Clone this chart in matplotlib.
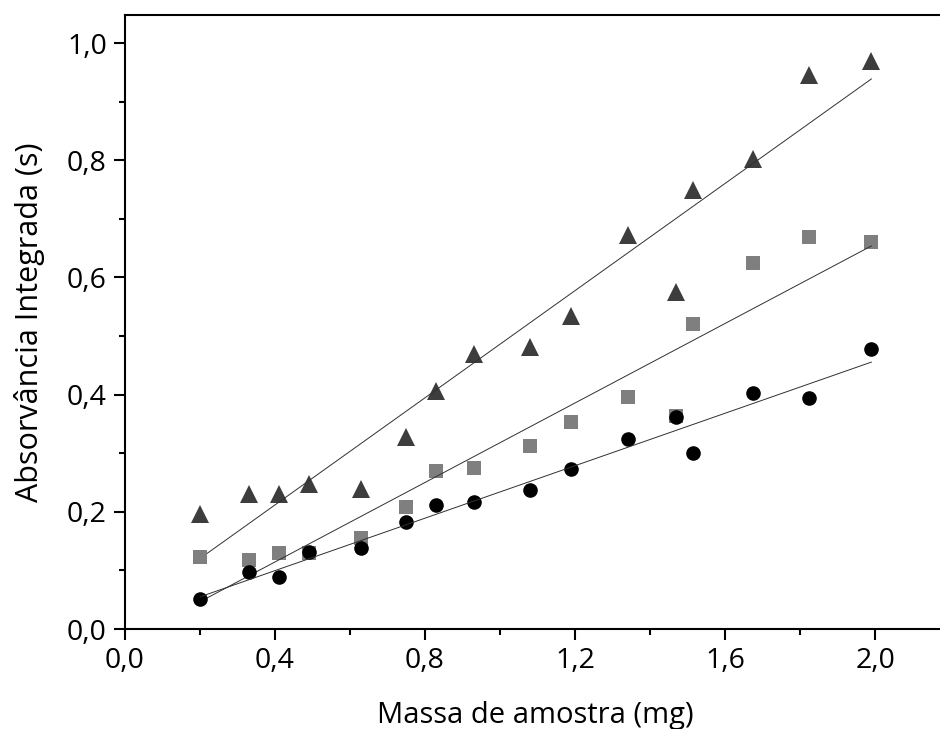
import numpy as np
import matplotlib.pyplot as plt
import matplotlib.ticker as ticker

plt.rcParams['font.family'] = ['Open Sans', 'DejaVu Sans']

# massa de amostra (mg)
massa = [0.20, 0.33, 0.41, 0.49, 0.63, 0.75, 0.83, 0.93, 1.08, 1.19,
         1.34, 1.47, 1.515, 1.675, 1.825, 1.99]
# absorvância integrada (s)
abs_triangulo = [0.196, 0.230, 0.230, 0.247, 0.239, 0.327, 0.406, 0.470, 0.481, 0.535,
                 0.673, 0.576, 0.750, 0.802, 0.946, 0.970]
abs_quadrado = [0.123, 0.118, 0.130, 0.130, 0.155, 0.208, 0.270, 0.274, 0.313, 0.353,
                0.396, 0.364, 0.521, 0.625, 0.669, 0.661]
abs_circulo = [0.051, 0.098, 0.088, 0.132, 0.138, 0.183, 0.211, 0.217, 0.237, 0.273,
               0.324, 0.362, 0.300, 0.403, 0.395, 0.478]

fig = plt.figure(figsize=(9.4, 7.29), dpi=100)
ax = fig.add_axes([125 / 940, 100 / 729, 815 / 940, 614 / 729])

series = [
    (abs_triangulo, '^', '#3d3d3d', 12.5),
    (abs_quadrado, 's', '#7f7f7f', 9.5),
    (abs_circulo, 'o', 'black', 10.5),
]
x = np.array(massa)
for y, m, c, ms in series:
    ax.plot(x, y, linestyle='none', marker=m, color=c, markersize=ms, markeredgewidth=0)
    a, b = np.polyfit(x, y, 1)  # ajuste linear
    xs = np.array([x.min(), x.max()])
    ax.plot(xs, a * xs + b, color='#303030', linewidth=0.7)

ax.set_xlim(0, 2.173)
ax.set_ylim(0, 1.048)
ax.xaxis.set_major_locator(ticker.MultipleLocator(0.4))
ax.xaxis.set_minor_locator(ticker.MultipleLocator(0.2))
ax.yaxis.set_major_locator(ticker.MultipleLocator(0.2))
ax.yaxis.set_minor_locator(ticker.MultipleLocator(0.1))
virgula = ticker.FuncFormatter(lambda v, p: f"{v:.1f}".replace('.', ','))
ax.xaxis.set_major_formatter(virgula)
ax.yaxis.set_major_formatter(virgula)

for s in ['left', 'bottom', 'top']:
    ax.spines[s].set_linewidth(1.5)
ax.spines['right'].set_visible(False)
ax.tick_params(which='major', direction='out', length=8, width=1.5, labelsize=20.5, pad=5)
ax.tick_params(which='minor', direction='out', length=4.5, width=1.5)
ax.tick_params(top=False, right=False)

ax.set_xlabel('Massa de amostra (mg)', fontsize=21)
ax.set_ylabel('Absorvância Integrada (s)', fontsize=22)
ax.xaxis.set_label_coords(0.503, -0.118)
ax.yaxis.set_label_coords(-0.098, 0.5)

plt.savefig('out.png', dpi=100)
